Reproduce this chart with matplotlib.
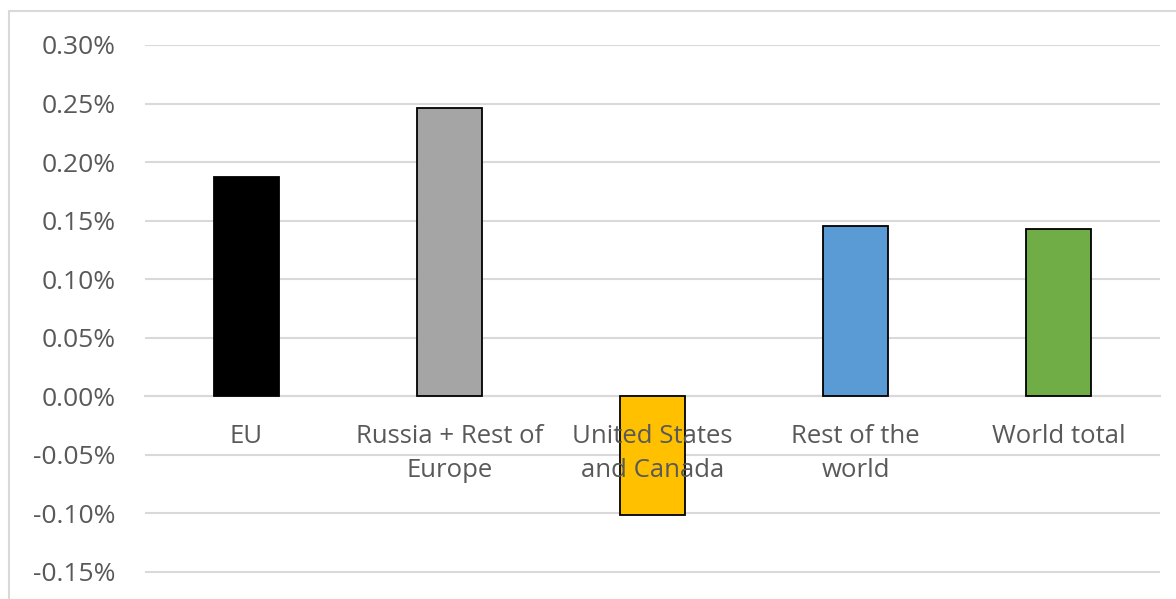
import matplotlib.pyplot as plt
from matplotlib.patches import Rectangle
from matplotlib.ticker import FuncFormatter

plt.rcParams['font.family'] = ['Open Sans', 'DejaVu Sans']

# data (percent)
regions = ["EU", "Russia + Rest of\nEurope", "United States\nand Canada", "Rest of the\nworld", "World total"]
values = [0.187, 0.246, -0.1015, 0.145, 0.1425]
colors = ["#000000", "#a5a5a5", "#ffc000", "#5b9bd5", "#70ad47"]
yticks = [-0.15, -0.10, -0.05, 0.0, 0.05, 0.10, 0.15, 0.20, 0.25, 0.30]

fig = plt.figure(figsize=(11.76, 5.99), dpi=100)
ax = fig.add_axes([145 / 1176, 0, 1015 / 1176, 1 - 45 / 599])

# chart border like excel
fig.patches.append(Rectangle((9 / 1176, -0.1), 1.2, 1 - 11 / 599 + 0.1, transform=fig.transFigure,
                             fill=False, edgecolor="#d9d9d9", linewidth=1.5))

x = list(range(len(regions)))
ax.bar(x, values, width=0.32, color=colors, edgecolor="black", linewidth=1.3, zorder=3)

ax.set_xlim(-0.5, len(regions) - 0.5)
ax.set_ylim(-0.1735, 0.30)
ax.set_yticks(yticks)
ax.yaxis.set_major_formatter(FuncFormatter(lambda v, p: "%.2f%%" % v))
ax.grid(axis="y", color="#d9d9d9", linewidth=1.5, zorder=0)

for s in ["left", "right", "top"]:
    ax.spines[s].set_visible(False)
ax.spines["bottom"].set_position(("data", 0))
ax.spines["bottom"].set_color("#d9d9d9")
ax.spines["bottom"].set_linewidth(1.5)

ax.set_xticks(x)
ax.set_xticklabels([])
ax.tick_params(axis="x", length=0)
ax.tick_params(axis="y", length=0, pad=21, labelsize=19, labelcolor="#595959")

# category labels sit under the zero line, on top of the bars (like excel)
for i, name in zip(x, regions):
    ax.annotate(name, xy=(i, 0), xytext=(0, -20), textcoords="offset points",
                ha="center", va="top", fontsize=18.5, color="#595959",
                linespacing=1.5, zorder=5)

fig.savefig("out.png", dpi=100)
